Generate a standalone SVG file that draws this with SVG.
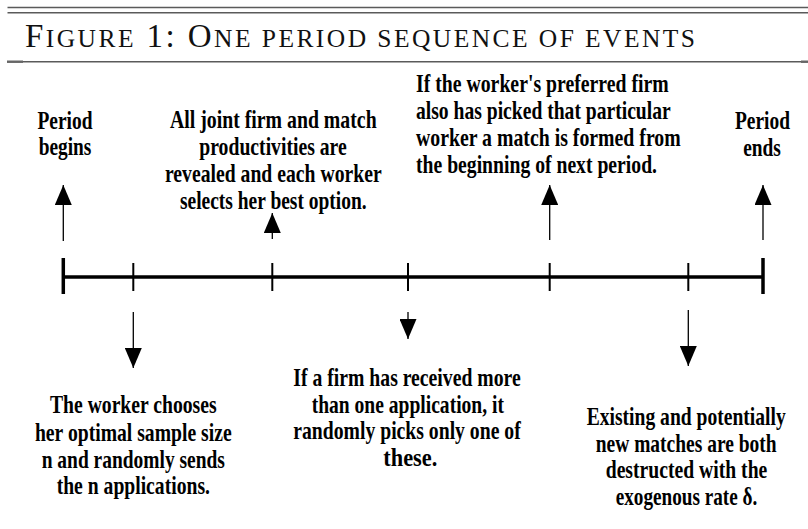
<svg xmlns="http://www.w3.org/2000/svg" width="808" height="529" viewBox="0 0 808 529">
<style>
  .rule { stroke: #5a5a5a; stroke-width: 1.4; fill: none; }
  .title { font-family: "Liberation Serif", "Times New Roman", serif; fill: #111; }
  .cap { font-size: 33px; }
  .sc { font-size: 25.5px; }
  .lbl { font-family: "Liberation Serif", "Times New Roman", serif; font-weight: bold; font-size: 25.5px; fill: #000; text-anchor: middle; }
  .lbl-l { text-anchor: start; }
  .axis { stroke: #000; stroke-width: 3.5; fill: none; }
  .end { stroke: #000; stroke-width: 3.5; }
  .tick { stroke: #000; stroke-width: 2; }
  .conn { stroke: #000; stroke-width: 1.3; fill: none; marker-end: url(#head); }
</style>
<defs>
  <marker id="head" viewBox="0 0 20 17" refX="20" refY="8.5" markerWidth="20" markerHeight="17" markerUnits="userSpaceOnUse" orient="auto">
    <path d="M0,0 L20,8.5 L0,17 z" fill="#000"/>
  </marker>
</defs>
<rect width="808" height="529" fill="#fff"/>

<g id="header">
  <line class="rule" x1="7.5" y1="7.5" x2="808" y2="7.5"/>
  <line class="rule" x1="7.5" y1="12.7" x2="808" y2="12.7"/>
  <line class="rule" x1="7" y1="61.7" x2="808" y2="61.7"/>
  <line x1="7" y1="61.7" x2="23" y2="61.7" stroke="#666" stroke-width="2.4"/>
  <line x1="801" y1="61.7" x2="808" y2="61.7" stroke="#666" stroke-width="2.4"/>
  <text class="title" x="25" y="46.7" textLength="670" lengthAdjust="spacing"><tspan class="cap">F</tspan><tspan class="sc">IGURE</tspan><tspan class="cap"> 1: O</tspan><tspan class="sc">NE PERIOD SEQUENCE OF EVENTS</tspan></text>
</g>

<g id="timeline">
  <line class="axis" x1="63" y1="277" x2="763" y2="277"/>
  <line class="end" x1="63.3" y1="258" x2="63.3" y2="294"/>
  <line class="end" x1="763" y1="258" x2="763" y2="294"/>
  <line class="tick" x1="133.3" y1="263" x2="133.3" y2="291"/>
  <line class="tick" x1="272.3" y1="263" x2="272.3" y2="291"/>
  <line class="tick" x1="408" y1="263" x2="408" y2="291"/>
  <line class="tick" x1="549.7" y1="263" x2="549.7" y2="291"/>
  <line class="tick" x1="688.3" y1="263" x2="688.3" y2="291"/>
</g>

<g id="connectors">
  <line class="conn" x1="63.3" y1="241" x2="63.3" y2="185"/>
  <line class="conn" x1="272.3" y1="239" x2="272.3" y2="213"/>
  <line class="conn" x1="549.7" y1="240" x2="549.7" y2="185"/>
  <line class="conn" x1="763" y1="240" x2="763" y2="185"/>
  <line class="conn" x1="133.3" y1="312" x2="133.3" y2="368"/>
  <line class="conn" x1="408" y1="312" x2="408" y2="339"/>
  <line class="conn" x1="688.3" y1="310" x2="688.3" y2="366"/>
</g>

<g id="node-period-begins" transform="scale(0.77 1)">
  <text class="lbl" x="84.42" y="129.3" textLength="71.43" lengthAdjust="spacingAndGlyphs">Period</text>
  <text class="lbl" x="84.42" y="155.5" textLength="68.44" lengthAdjust="spacingAndGlyphs">begins</text>
</g>

<g id="node-productivities" transform="scale(0.77 1)">
  <text class="lbl" x="354.94" y="128.3" textLength="268.44" lengthAdjust="spacingAndGlyphs">All joint firm and match</text>
  <text class="lbl" x="354.55" y="155" textLength="191.43" lengthAdjust="spacingAndGlyphs">productivities are</text>
  <text class="lbl" x="354.94" y="182.5" textLength="281.43" lengthAdjust="spacingAndGlyphs">revealed and each worker</text>
  <text class="lbl" x="354.94" y="209.3" textLength="242.47" lengthAdjust="spacingAndGlyphs">selects her best option.</text>
</g>

<g id="node-match-formed" transform="scale(0.77 1)">
  <text class="lbl lbl-l" x="540.26" y="92.3" textLength="328.18" lengthAdjust="spacingAndGlyphs">If the worker's preferred firm</text>
  <text class="lbl lbl-l" x="540.26" y="119.3" textLength="330.78" lengthAdjust="spacingAndGlyphs">also has picked that particular</text>
  <text class="lbl lbl-l" x="540.26" y="146.3" textLength="343.77" lengthAdjust="spacingAndGlyphs">worker a match is formed from</text>
  <text class="lbl lbl-l" x="540.26" y="173.3" textLength="312.99" lengthAdjust="spacingAndGlyphs">the beginning of next period.</text>
</g>

<g id="node-period-ends" transform="scale(0.77 1)">
  <text class="lbl" x="990.26" y="129.5" textLength="71.43" lengthAdjust="spacingAndGlyphs">Period</text>
  <text class="lbl" x="989.61" y="156" textLength="48.96" lengthAdjust="spacingAndGlyphs">ends</text>
</g>

<g id="node-sample-size" transform="scale(0.77 1)">
  <text class="lbl" x="173.12" y="413.3" textLength="216.49" lengthAdjust="spacingAndGlyphs">The worker chooses</text>
  <text class="lbl" x="173.12" y="441" textLength="255.45" lengthAdjust="spacingAndGlyphs">her optimal sample size</text>
  <text class="lbl" x="173.12" y="467.7" textLength="238.05" lengthAdjust="spacingAndGlyphs">n and randomly sends</text>
  <text class="lbl" x="173.12" y="494" textLength="199.09" lengthAdjust="spacingAndGlyphs">the n applications.</text>
</g>

<g id="node-firm-picks" transform="scale(0.77 1)">
  <text class="lbl" x="528.57" y="386" textLength="295.32" lengthAdjust="spacingAndGlyphs">If a firm has received more</text>
  <text class="lbl" x="529.61" y="413" textLength="249.74" lengthAdjust="spacingAndGlyphs">than one application, it</text>
  <text class="lbl" x="528.57" y="439.5" textLength="295.32" lengthAdjust="spacingAndGlyphs">randomly picks only one of</text>
  <text class="lbl" x="532.86" y="466" textLength="70.13" lengthAdjust="spacingAndGlyphs">these.</text>
</g>

<g id="node-destruction" transform="scale(0.77 1)">
  <text class="lbl" x="891.17" y="425" textLength="258.44" lengthAdjust="spacingAndGlyphs">Existing and potentially</text>
  <text class="lbl" x="891.17" y="451.7" textLength="235.06" lengthAdjust="spacingAndGlyphs">new matches are both</text>
  <text class="lbl" x="891.56" y="478.3" textLength="209.87" lengthAdjust="spacingAndGlyphs">destructed with the</text>
  <text class="lbl" x="891.56" y="505" textLength="183.90" lengthAdjust="spacingAndGlyphs">exogenous rate δ.</text>
</g>
</svg>
